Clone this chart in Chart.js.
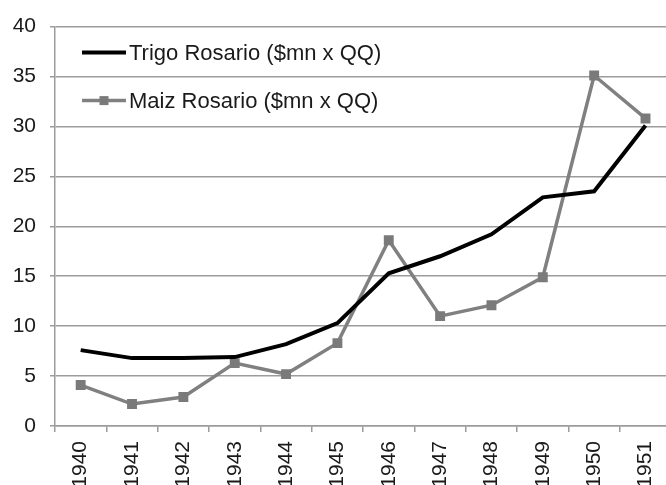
<!DOCTYPE html>
<html>
<head>
<meta charset="utf-8">
<script src="https://cdn.jsdelivr.net/npm/chart.js@4/dist/chart.umd.min.js"></script>
<style>
  html, body { margin: 0; padding: 0; background: #fff; overflow: hidden; }
  #wrap { width: 680px; height: 485px; position: relative; }
</style>
</head>
<body>
<div id="wrap"><canvas id="c"></canvas></div>
<script>
// Years on the category axis
const years = ['1940', '1941', '1942', '1943', '1944', '1945', '1946', '1947', '1948', '1949', '1950', '1951'];
// Wheat price at Rosario ($mn per quintal)
const trigo = [7.6, 6.8, 6.8, 6.9, 8.2, 10.3, 15.3, 17.0, 19.2, 22.9, 23.5, 30.1];
// Maize price at Rosario ($mn per quintal)
const maiz = [4.1, 2.2, 2.9, 6.3, 5.2, 8.3, 18.6, 11.0, 12.1, 14.9, 35.1, 30.8];
const seriesNames = ['Trigo Rosario ($mn x QQ)', 'Maiz Rosario ($mn x QQ)'];
const yTicks = { min: 0, max: 40, step: 5 };

const FONT = "'Liberation Sans', Arial, sans-serif";
const GRID = '#9c9c9c';

// Legend drawn inside the plot area, top-left
const innerLegend = {
  id: 'innerLegend',
  afterDraw(chart) {
    const ctx = chart.ctx;
    const area = chart.chartArea;
    const x0 = area.left + 27, x1 = area.left + 71;
    const rows = [area.top + 26, area.top + 74];
    ctx.save();
    chart.data.datasets.forEach((ds, i) => {
      const y = rows[i];
      ctx.strokeStyle = ds.borderColor;
      ctx.lineWidth = ds.borderWidth;
      ctx.beginPath();
      ctx.moveTo(x0, y);
      ctx.lineTo(x1, y);
      ctx.stroke();
      if (ds.pointRadius > 0) {
        const half = 4.5;
        ctx.fillStyle = ds.pointBackgroundColor;
        ctx.fillRect((x0 + x1) / 2 - half, y - half, 2 * half, 2 * half);
      }
      ctx.fillStyle = '#1a1a1a';
      ctx.font = '22px ' + FONT;
      ctx.textBaseline = 'middle';
      ctx.textAlign = 'left';
      ctx.fillText(ds.label, x1 + 3, y + 1);
    });
    ctx.restore();
  }
};

new Chart(document.getElementById('c'), {
  type: 'line',
  data: {
    labels: years,
    datasets: [
      {
        label: seriesNames[0],
        data: trigo,
        borderColor: '#000000',
        backgroundColor: '#000000',
        borderWidth: 4,
        pointRadius: 0,
        pointHoverRadius: 0,
        tension: 0
      },
      {
        label: seriesNames[1],
        data: maiz,
        borderColor: '#808080',
        backgroundColor: '#808080',
        pointBackgroundColor: '#7a7a7a',
        pointBorderColor: '#7a7a7a',
        borderWidth: 3.5,
        pointStyle: 'rect',
        pointRadius: 7,
        pointBorderWidth: 0,
        tension: 0
      }
    ]
  },
  options: {
    responsive: true,
    maintainAspectRatio: false,
    animation: false,
    layout: { padding: { top: 22, left: 0, right: 0, bottom: 0 } },
    plugins: {
      legend: { display: false },
      tooltip: { enabled: false }
    },
    scales: {
      x: {
        offset: true,
        grid: {
          offset: true,
          drawOnChartArea: false,
          drawTicks: true,
          tickLength: 6,
          color: GRID,
          lineWidth: 1.5
        },
        border: { color: GRID, width: 1.5 },
        ticks: {
          minRotation: 90,
          maxRotation: 90,
          autoSkip: false,
          padding: 9,
          color: '#1a1a1a',
          font: { family: FONT, size: 21 }
        },
        afterFit(scale) { scale.height = 59; }
      },
      y: {
        min: yTicks.min,
        max: yTicks.max,
        grid: {
          color: GRID,
          lineWidth: 1.5,
          tickLength: 5
        },
        border: { color: GRID, width: 1.5 },
        ticks: {
          stepSize: yTicks.step,
          padding: 14,
          color: '#1a1a1a',
          font: { family: FONT, size: 21 }
        },
        afterFit(scale) { scale.width = 55; }
      }
    }
  },
  plugins: [innerLegend]
});
</script>
</body>
</html>
